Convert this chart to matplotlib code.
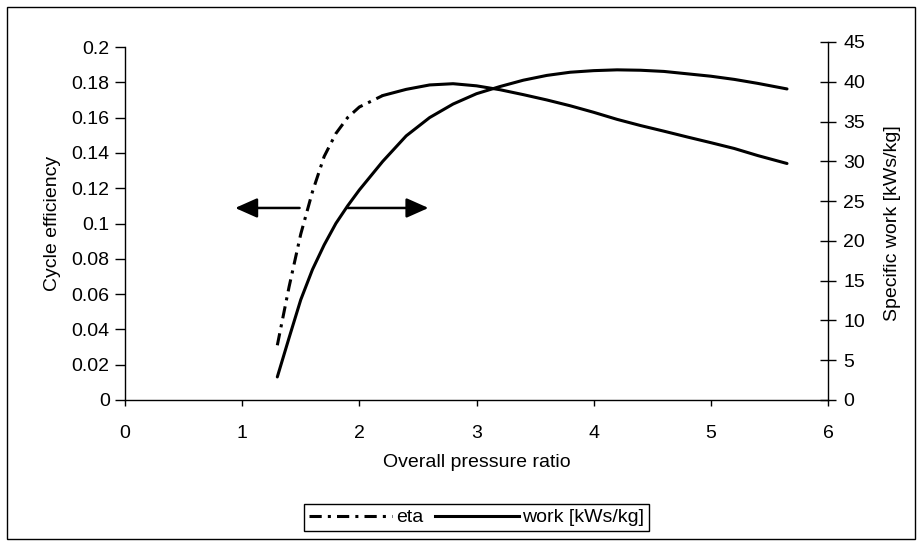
import matplotlib
matplotlib.use("Agg")
import matplotlib.pyplot as plt
from matplotlib.patches import Rectangle
from matplotlib.lines import Line2D
from matplotlib.ticker import FuncFormatter

plt.rcParams['font.family'] = ['Liberation Sans', 'DejaVu Sans']

# Overall pressure ratio and the two computed quantities
pressure_ratio = [1.3, 1.4, 1.5, 1.6, 1.7, 1.8, 1.9, 2.0, 2.2, 2.4, 2.6, 2.8, 3.0,
                  3.2, 3.4, 3.6, 3.8, 4.0, 4.2, 4.4, 4.6, 4.8, 5.0, 5.2, 5.4, 5.65]
eta = [0.031, 0.064, 0.094, 0.118, 0.138, 0.151, 0.160, 0.166, 0.1725, 0.176, 0.1785,
       0.1792, 0.178, 0.1758, 0.173, 0.170, 0.1667, 0.163, 0.159, 0.1555, 0.1523,
       0.149, 0.1458, 0.1425, 0.1385, 0.134]
work = [2.9, 7.8, 12.6, 16.4, 19.5, 22.2, 24.4, 26.4, 30.0, 33.2, 35.5, 37.2, 38.5,
        39.4, 40.2, 40.8, 41.2, 41.4, 41.5, 41.45, 41.3, 41.0, 40.7, 40.3, 39.8, 39.1]

x_ticks = [0, 1, 2, 3, 4, 5, 6]
eta_ticks = [0, 0.02, 0.04, 0.06, 0.08, 0.1, 0.12, 0.14, 0.16, 0.18, 0.2]
work_ticks = [0, 5, 10, 15, 20, 25, 30, 35, 40, 45]

FS = 14
W, H = 922, 543
fig = plt.figure(figsize=(W / 100, H / 100), dpi=100)
fig.patch.set_facecolor('white')

left, right = 125 / W, 828 / W
bottom = 1 - 400 / H
top_l = 1 - 47 / H
top_r = 1 - 42 / H
ax_h = top_l - bottom

ax = fig.add_axes([left, bottom, right - left, ax_h])
ax2 = fig.add_axes([left, bottom, right - left, top_r - bottom], sharex=ax)
ax2.patch.set_visible(False)

lw = 2.2
dash_pat = (4.0, 2.0, 1.0, 2.0)
# eta: dash-dot at low pressure ratios, solid from 2.2 on
k = pressure_ratio.index(2.2)
ax.plot(pressure_ratio[:k + 1], eta[:k + 1], color='black', lw=lw,
        dashes=dash_pat, solid_capstyle='butt')
ax.plot(pressure_ratio[k:], eta[k:], color='black', lw=lw, solid_capstyle='round')
ax2.plot(pressure_ratio, work, color='black', lw=lw, solid_capstyle='round')

ax.set_xlim(0, 6)
ax.set_ylim(0, 0.2)
ax2.set_ylim(0, 45)
ax.set_xticks(x_ticks)
ax.set_yticks(eta_ticks)
ax2.set_yticks(work_ticks)
ax.yaxis.set_major_formatter(FuncFormatter(lambda v, p: f"{v:g}"))

for s in ['top', 'right']:
    ax.spines[s].set_visible(False)
for s in ['top', 'left', 'bottom']:
    ax2.spines[s].set_visible(False)
for s in ax.spines.values():
    s.set_linewidth(1.0)
ax2.spines['right'].set_linewidth(1.0)

ax.tick_params(axis='y', direction='out', length=7, width=1, pad=4, labelsize=FS)
ax.tick_params(axis='x', direction='out', length=4, width=1, pad=14, labelsize=FS)
ax2.xaxis.set_visible(False)
ax2.yaxis.tick_right()
ax2.yaxis.set_label_position('right')
ax2.tick_params(axis='y', direction='inout', length=12, width=1, pad=5, labelsize=FS)

ax.set_xlabel('Overall pressure ratio', fontsize=FS)
ax.xaxis.set_label_coords(0.5, (400 - 454) / (ax_h * H))
ax.set_ylabel('Cycle efficiency', fontsize=FS)
ax.yaxis.set_label_coords((61 - 125) / (W * (right - left)), 0.5)
ax2.set_ylabel('Specific work [kWs/kg]', fontsize=FS)
ax2.yaxis.set_label_coords((884 - 125) / (W * (right - left)), 0.5 * ax_h / (top_r - bottom))

# direction arrows pointing to each curve's axis
y_arrow = 0.1088
arrow_kw = dict(arrowstyle='-|>,head_length=0.9,head_width=0.4', color='black',
                lw=1.8, mutation_scale=15, shrinkA=0, shrinkB=0)
ax.annotate('', xy=(0.94, y_arrow), xytext=(1.49, y_arrow), arrowprops=arrow_kw)
ax.annotate('', xy=(2.59, y_arrow), xytext=(1.90, y_arrow), arrowprops=arrow_kw)

handles = [Line2D([], [], color='black', lw=lw, dashes=dash_pat),
           Line2D([], [], color='black', lw=lw)]
leg = fig.legend(handles, ['eta', 'work [kWs/kg]'], loc='upper center',
                 bbox_to_anchor=(476.5 / W, 1 - 504 / H), ncol=2, fontsize=FS,
                 frameon=True, fancybox=False, edgecolor='black', framealpha=1,
                 handlelength=4.3, handletextpad=0.2, columnspacing=0.6,
                 borderpad=0.25, borderaxespad=0)
leg.get_frame().set_linewidth(1.0)

# outer frame around the whole chart
fig.patches.append(Rectangle((7 / W, 4 / H), (915 - 7) / W, (539 - 7) / H,
                             transform=fig.transFigure, fill=False,
                             edgecolor='black', lw=1.0))

fig.savefig('out.png', dpi=100, facecolor='white')
